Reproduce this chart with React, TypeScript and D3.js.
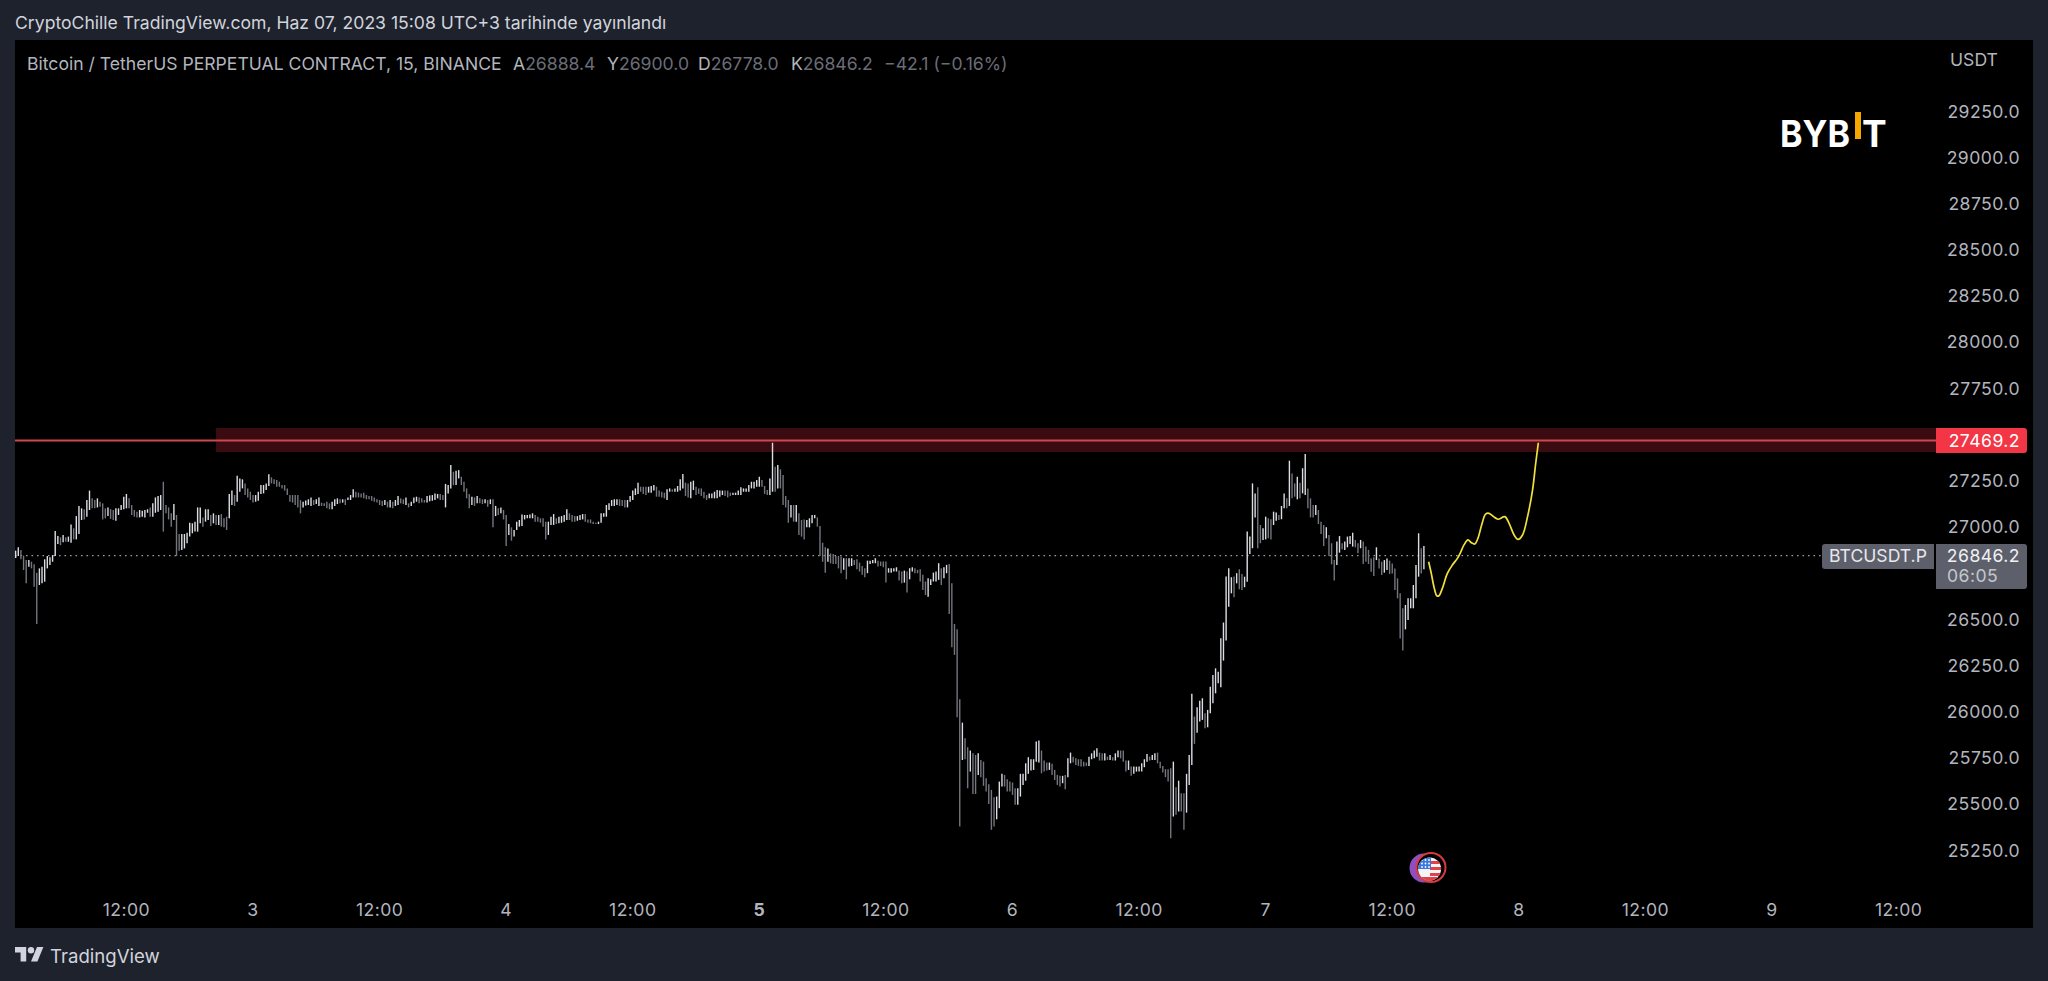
import * as d3 from "d3";

const W = 2048, H = 981;
const PANEL = { left: 15, right: 2033, top: 40, bottom: 928 };
const AXIS_X = 1936;
const FONT = "Inter, 'Noto Sans', sans-serif";

// 15 minute bars
const firstBar = new Date(Date.UTC(2023, 5, 2, 1, 30));

const highsA = [26873,26891,26876,26846,26822,26822,26813,26799,26754,26777,26786,26826,26844,26837,26849,26979,26952,26945,26958,26945,26949,27015,26994,27060,27115,27102,27097,27147,27198,27156,27147,27156,27138,27129,27102,27107,27098,27093,27102,27102,27120,27165,27180,27156,27120,27093,27084,27093,27089,27093,27097,27107,27129,27161,27169,27174,27246,27120,27107,27075,27125,27066,26963,26963,26963,26970,27024,27021,27030,27107,27107,27053,27097,27097,27066,27075,27066,27066,27071,27048,27057,27180,27198,27174,27279,27264,27259,27237,27210,27192,27174,27174,27192,27228,27228,27237,27286,27270,27259,27255,27246,27228,27228,27210,27174,27174,27174,27174,27147,27138,27145,27151,27161,27147,27151,27161,27133,27129,27138,27129,27138,27151,27156,27151,27151,27151,27161,27174,27205,27192,27187,27183,27187,27174,27169,27169,27161,27151,27147,27143,27147,27138,27147,27138,27147,27169,27156,27151,27161,27129,27138,27161,27165,27161];
const lowsA = [26833,26844,26826,26768,26696,26786,26777,26678,26476,26687,26696,26705,26777,26795,26813,26844,26909,26903,26918,26921,26921,26916,26934,26934,26963,27039,27042,27057,27093,27102,27102,27107,27111,27042,27048,27060,27045,27039,27035,27066,27093,27097,27102,27102,27066,27057,27053,27053,27057,27053,27078,27057,27057,27078,27084,27093,26976,27075,27042,27003,27039,26844,26873,26876,26885,26913,26949,26967,26976,26976,27021,27003,27030,27039,27006,27021,27012,27012,27003,26999,26985,27048,27120,27115,27138,27192,27210,27174,27161,27147,27133,27138,27143,27180,27183,27201,27223,27237,27234,27219,27219,27210,27198,27174,27138,27133,27120,27107,27075,27107,27118,27120,27115,27120,27125,27115,27115,27115,27102,27097,27097,27115,27125,27129,27133,27120,27147,27147,27161,27161,27161,27161,27156,27151,27151,27143,27138,27133,27120,27115,27120,27107,27107,27102,27115,27120,27129,27125,27120,27107,27115,27129,27138,27129];

const highsB = [27156,27147,27169,27172,27174,27183,27180,27180,27174,27234,27228,27336,27300,27306,27309,27273,27246,27210,27180,27165,27161,27169,27156,27151,27151,27147,27151,27151,27115,27102,27107,27093,27066,27017,26999,26985,27030,27039,27069,27066,27066,27069,27075,27066,27057,27048,27048,27030,27030,27057,27071,27048,27057,27060,27066,27097,27075,27066,27060,27060,27066,27071,27071,27042,27042,27030,27024,27030,27075,27075,27120,27129,27147,27151,27151,27151,27147,27147,27147,27169,27198,27210,27241,27219,27219,27219,27219,27223,27228,27219,27198,27192,27187,27205,27210,27205,27210,27223,27259,27288,27241,27237,27246,27252,27219,27210,27210,27192,27174,27183,27183,27192,27201,27198,27198,27198,27198,27187,27187,27187,27198,27216,27210,27210,27228,27246,27246,27255,27273,27255,27223,27201,27264,27457,27327,27336,27313,27282,27169,27147,27120,27120,27120,27075,27039,27042,27039,27048,27066,27066,27053,27006,26916,26891,26885,26858,26855,26844,26844];
const lowsB = [27133,27133,27133,27140,27143,27147,27156,27147,27147,27107,27183,27210,27228,27228,27264,27228,27192,27156,27102,27120,27115,27129,27129,27125,27129,27111,27125,26999,27060,27066,27075,27042,26898,26958,26927,26949,26985,27003,27006,27042,27048,27048,27048,27030,27030,27024,27003,26934,26958,27012,27012,27017,27021,27024,27030,27039,27039,27030,27030,27035,27039,27042,27030,27024,27021,27017,27017,27017,27024,27057,27057,27093,27115,27115,27120,27115,27115,27107,27107,27138,27147,27174,27180,27192,27180,27174,27187,27187,27198,27165,27165,27161,27156,27147,27192,27192,27192,27192,27198,27210,27169,27161,27156,27201,27174,27180,27169,27156,27147,27156,27156,27156,27156,27165,27174,27169,27161,27169,27174,27174,27174,27174,27192,27192,27192,27210,27210,27219,27219,27219,27180,27174,27174,27192,27192,27210,27210,27120,27107,27024,27053,27030,27030,26958,26949,26934,26999,26999,27021,27048,27003,26844,26813,26754,26813,26804,26801,26801,26777];

const highsC = [26841,26832,26832,26832,26832,26823,26826,26808,26790,26778,26819,26819,26823,26832,26819,26814,26814,26814,26778,26778,26778,26783,26765,26760,26765,26760,26778,26783,26778,26769,26772,26742,26706,26724,26718,26754,26760,26805,26778,26783,26796,26801,26696,26476,26448,26069,25942,25858,25809,25791,25776,25767,25776,25740,25731,25641,25609,25578,25538,25542,25623,25665,25659,25636,25623,25618,25587,25587,25665,25665,25722,25755,25744,25744,25840,25845,25791,25737,25726,25726,25719,25686,25659,25654,25654,25659,25749,25780,25758,25749,25744,25744,25731,25726,25758,25776,25791,25803,25780,25776,25776,25758,25767,25755,25776,25791,25791,25791,25737,25737,25704,25704,25704,25704,25722,25744,25773,25758,25767,25776,25780,25731,25708,25690,25690,25695,25731,25592,25628,25560,25560,25665,25767,26098,25975,26025,26061,26074,25993,26011,26137,26200,26236,26218,26399,26484,26733,26778,26729,26733,26751,26772];
const lowsC = [26751,26769,26718,26787,26790,26796,26772,26760,26742,26729,26751,26801,26805,26805,26787,26790,26783,26700,26754,26754,26760,26760,26711,26696,26700,26646,26718,26760,26751,26751,26706,26660,26633,26624,26687,26706,26706,26715,26687,26724,26751,26530,26350,26309,25971,25380,25740,25744,25587,25677,25556,25556,25659,25647,25600,25569,25502,25362,25380,25419,25479,25596,25596,25569,25569,25551,25497,25497,25542,25605,25628,25665,25683,25686,25731,25726,25668,25677,25683,25686,25659,25632,25605,25596,25614,25582,25647,25722,25726,25713,25708,25704,25704,25708,25708,25744,25749,25758,25737,25737,25737,25740,25740,25737,25737,25755,25749,25731,25677,25686,25654,25665,25677,25677,25677,25701,25731,25737,25740,25740,25722,25695,25672,25647,25623,25316,25434,25443,25461,25461,25362,25455,25605,25713,25827,25888,25948,25957,25912,25917,25993,26047,26101,26155,26134,26278,26386,26570,26642,26621,26696,26664];

const highsD = [26747,26732,26976,26949,27237,27183,27216,27012,26994,27057,27048,27043,27084,27079,27066,27115,27183,27156,27360,27291,27237,27273,27241,27319,27396,27210,27156,27120,27120,27093,27030,27012,27000,26958,26913,26822,26922,26952,26913,26922,26949,26952,26970,26931,26913,26931,26922,26895,26877,26831,26837,26891,26831,26813,26822,26831,26819,26804,26777,26723,26642,26561,26579,26615,26615,26687,26795,26967,26886,26898];
const lowsD = [26660,26675,26705,26855,26886,27053,26886,26913,26931,26934,26940,26934,27012,27035,27039,27043,27102,27102,27115,27156,27165,27151,27156,27183,27174,27102,27053,27053,27066,27017,26963,26898,26940,26844,26799,26711,26795,26862,26880,26877,26891,26909,26895,26891,26859,26886,26801,26813,26801,26759,26736,26822,26777,26741,26754,26768,26747,26750,26660,26615,26398,26332,26447,26498,26561,26561,26615,26732,26750,26772];

const highs = [...highsA, ...highsB, ...highsC, ...highsD];
const lows = [...lowsA, ...lowsB, ...lowsC, ...lowsD];

// the yellow hand drawn projection: bar number and price
const projBars = [535.8,536.8,537.8,538.9,539.7,541,542.9,544.8,546.7,548,549.2,550.7,552,553.3,554.5,555.9,557.4,558.7,560.4,562.1,564.7,566.3,568.2,569.7,571.4,573.3,575.2,576.4,577.4];
const projPrices = [26813,26750,26678,26629,26629,26669,26750,26795,26831,26867,26904,26931,26916,26909,26940,27012,27071,27075,27057,27043,27057,27021,26958,26934,26958,27057,27201,27346,27457];

const priceTicks = [29250,29000,28750,28500,28250,28000,27750,27250,27000,26500,26250,26000,25750,25500,25250];
const resistance = 27469.2;
const lastPrice = 26846.2;
const zoneTop = 27537;
const zoneBottom = 27407;
const zoneStartBar = 76;

const ohlcLegend = [["A", "26888.4"], ["Y", "26900.0"], ["D", "26778.0"], ["K", "26846.2"]];
const legendX = [513, 607, 698, 791];

const barTime = (i: number) => new Date(+firstBar + i * 15 * 60000);
const x = d3.scaleUtc([new Date(Date.UTC(2023, 5, 3)), new Date(Date.UTC(2023, 5, 9))], [253, 1772]);
const y = d3.scaleLinear([25250, 29250], [850.5, 111.5]);
const timeTicks = d3.utcHours(new Date(Date.UTC(2023, 5, 2, 12)), new Date(Date.UTC(2023, 5, 9, 13)), 12);

const projLine = d3.line<number>()
  .x((b) => x(barTime(b)))
  .y((_, i) => y(projPrices[i]))
  .curve(d3.curveCatmullRom.alpha(0.5));

const mid = (i: number) => (highs[i] + lows[i]) / 2;

export default function App() {
  const bg = "#1e222d";
  const fs = 17.6;
  const ls = 0.45; // axis digits run a bit wider than Inter
  return (
    <svg width={W} height={H} style={{ position: "fixed", left: 0, top: 0, display: "block", background: bg, fontFamily: FONT }}>
      <defs>
        <clipPath id="flag"><circle cx={1429.6} cy={869} r={11.5} /></clipPath>
      </defs>

      {/* header */}
      <text x={15} y={29} fontSize={fs} fill="#d1d4dc">CryptoChille TradingView.com, Haz 07, 2023 15:08 UTC+3 tarihinde yayınlandı</text>

      <rect x={PANEL.left} y={PANEL.top} width={PANEL.right - PANEL.left} height={PANEL.bottom - PANEL.top} fill="#000" />

      {/* zone and level */}
      <rect x={x(barTime(zoneStartBar))} y={y(zoneTop)} width={AXIS_X - x(barTime(zoneStartBar))} height={y(zoneBottom) - y(zoneTop)} fill="#3a0c11" />
      <line x1={PANEL.left} x2={AXIS_X} y1={y(resistance)} y2={y(resistance)} stroke="#d0474f" strokeWidth={2} />
      <line x1={PANEL.left} x2={1822} y1={y(lastPrice)} y2={y(lastPrice)} stroke="#9a9ca3" strokeWidth={1.2} strokeDasharray="1.6 3.9" />

      {/* bars */}
      {highs.map((h, i) => (
        <line key={i} x1={x(barTime(i))} x2={x(barTime(i))} y1={y(h)} y2={y(lows[i])}
          stroke={i > 0 && mid(i) < mid(i - 1) ? "#74767e" : "#dcdee4"} strokeWidth={1.4} />
      ))}

      <path d={projLine(projBars) ?? ""} fill="none" stroke="#f0e13a" strokeWidth={1.7} />

      {/* legend */}
      <text x={27} y={69.5} fontSize={fs} fill="#b2b5be">Bitcoin / TetherUS PERPETUAL CONTRACT, 15, BINANCE</text>
      {ohlcLegend.map(([k, v], i) => (
        <text key={k} x={legendX[i]} y={69.5} fontSize={fs} fill="#6a6d78">
          <tspan fill="#b2b5be">{k}</tspan>{v}
        </text>
      ))}
      <text x={884} y={69.5} fontSize={fs} fill="#6a6d78">−42.1 (−0.16%)</text>

      {/* logo */}
      <text x={1780} y={147} fontSize={37} fontWeight={700} fill="#fff" textLength={70} lengthAdjust="spacingAndGlyphs">BYB</text>
      <rect x={1855} y={112} width={6} height={27} fill="#f7a600" />
      <text x={1862} y={147} fontSize={37} fontWeight={700} fill="#fff">T</text>

      {/* price axis */}
      <text x={1974} y={65.5} textAnchor="middle" fontSize={fs} fill="#b2b5be">USDT</text>
      {priceTicks.map((t) => (
        <text key={t} x={2020} y={y(t) + 6} textAnchor="end" fontSize={fs} letterSpacing={ls} fill="#b2b5be">{t.toFixed(1)}</text>
      ))}
      <path d="M1936 428H2024a3 3 0 0 1 3 3V450a3 3 0 0 1 -3 3H1936Z" fill="#f23645" />
      <text x={2020} y={y(resistance) + 6} textAnchor="end" fontSize={fs} letterSpacing={ls} fill="#fff">{resistance.toFixed(1)}</text>

      <path d="M1934 544H1825a3 3 0 0 0 -3 3V566a3 3 0 0 0 3 3H1934Z" fill="#5d606b" />
      <text x={1878} y={562} textAnchor="middle" fontSize={fs} fill="#e8e9ed">BTCUSDT.P</text>
      <path d="M1936 544H2024a3 3 0 0 1 3 3V586a3 3 0 0 1 -3 3H1936Z" fill="#5d606b" />
      <text x={2020} y={562} textAnchor="end" fontSize={fs} letterSpacing={ls} fill="#f0f1f3">{lastPrice.toFixed(1)}</text>
      <text x={1947} y={582} fontSize={fs} letterSpacing={ls} fill="#c5c7cd">06:05</text>

      {/* time axis */}
      {timeTicks.map((t) => {
        const isDay = t.getUTCHours() === 0;
        const monday = isDay && t.getUTCDay() === 1;
        return (
          <text key={+t} x={x(t)} y={916} textAnchor="middle" fontSize={fs} letterSpacing={ls} fontWeight={monday ? 700 : 400} fill="#b2b5be">
            {isDay ? d3.utcFormat("%-d")(t) : d3.utcFormat("%H:%M")(t)}
          </text>
        );
      })}

      {/* event marker */}
      <circle cx={1424} cy={868} r={14.5} fill="#8e4fc0" />
      <circle cx={1431} cy={867.5} r={14.5} fill="#000" stroke="#d93a3f" strokeWidth={2} />
      <g clipPath="url(#flag)">
        <rect x={1418} y={857} width={24} height={24} fill="#f4f4f6" />
        {[861, 867, 873].map((s) => <rect key={s} x={1430} y={s} width={12} height={3} fill="#e0424a" />)}
        <rect x={1418} y={877} width={24} height={5} fill="#e0424a" />
        <rect x={1418} y={857} width={13} height={12} fill="#3a78e0" />
        {[860, 863.5, 867].map((dy) => [1422, 1425.5, 1429].map((dx) => <circle key={`${dx}-${dy}`} cx={dx} cy={dy} r={0.9} fill="#fff" />))}
      </g>

      {/* footer */}
      <g transform="translate(15,943.8) scale(0.8)" fill="#d1d4dc">
        <path d="M14 22H7V11H0V4h14v18zM28 22h-8l7.5-18h8L28 22z" />
        <circle cx={20} cy={8} r={4} />
      </g>
      <text x={50} y={963} fontSize={18.6} fill="#d1d4dc">TradingView</text>
    </svg>
  );
}
